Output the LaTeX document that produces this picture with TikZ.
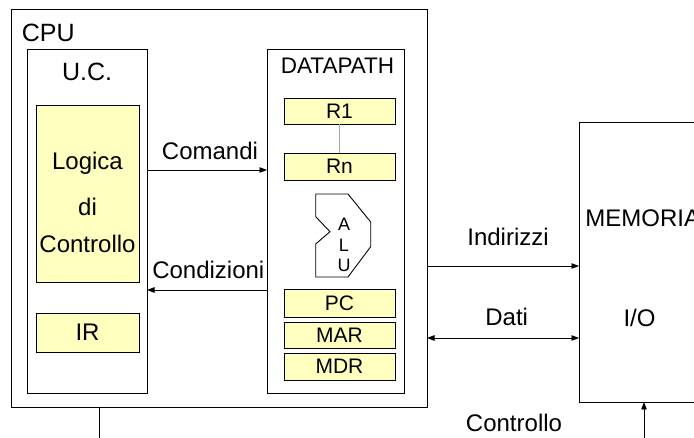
\documentclass[tikz,border=0pt]{standalone}
\usepackage{fontspec}
\setmainfont{Liberation Sans}
\usetikzlibrary{arrows.meta}
\definecolor{yel}{RGB}{255,255,192}
\begin{document}
\begin{tikzpicture}[x=1pt,y=-1pt,line width=0.9pt,
  box/.style={draw,inner sep=0pt,outer sep=0pt},
  lbl/.style={inner sep=0pt,font=\fontsize{24}{28}\selectfont},
  reg/.style={draw,fill=yel,inner sep=0pt,outer sep=0pt,minimum width=111pt,font=\fontsize{21}{24}\selectfont},
  alul/.style={inner sep=0pt,font=\fontsize{18}{22}\selectfont},
  arr/.style={-{Triangle[length=7.5pt,width=5.5pt]}},
  darr/.style={{Triangle[length=7.5pt,width=5.5pt]}-{Triangle[length=7.5pt,width=5.5pt]}}]
\useasboundingbox (0,0) rectangle (694,438);
\clip (0,0) rectangle (694,438);
% CPU
\node[box,minimum width=416pt,minimum height=398pt] (cpu) at (219,208) {};
\node[lbl,anchor=base west,font=\fontsize{25}{30}\selectfont] (cpulbl) at (21.5,41.5) {CPU};
% U.C.
\node[box,minimum width=120pt,minimum height=344pt] (uc) at (87,221) {};
\node[lbl,anchor=base,font=\fontsize{25}{30}\selectfont] (uclbl) at (87,81) {U.C.};
\node[reg,minimum width=103pt,minimum height=177pt] (logica) at (87.5,193.5) {};
\node[lbl,anchor=base] (l1) at (87.5,170) {Logica};
\node[lbl,anchor=base] (l2) at (87.5,216) {di};
\node[lbl,anchor=base] (l3) at (87.5,252.5) {Controllo};
\node[reg,minimum width=103pt,minimum height=39pt,font=\fontsize{24}{28}\selectfont] (ir) at (87.5,332.5) {IR};
% DATAPATH
\node[box,minimum width=137pt,minimum height=344pt] (dp) at (335.5,221) {};
\node[lbl,anchor=base,font=\fontsize{22.5}{27}\selectfont] (dplbl) at (337.5,73.5) {DATAPATH};
\node[reg,minimum height=26pt] (r1) at (339.5,111) {R1};
\node[reg,minimum height=27pt] (rn) at (339.5,166.5) {Rn};
\draw[gray!70,line width=0.5pt] (r1) -- (rn);
\node[reg,minimum height=28pt] (pc) at (339.5,303) {PC};
\node[reg,minimum height=26pt] (mar) at (339.5,335) {MAR};
\node[reg,minimum height=27pt] (mdr) at (339.5,366.5) {MDR};
% ALU
\draw (315.7,194) -- (348,194) -- (370.7,222) -- (370.7,246.7) -- (348,277) -- (315.7,277)
  -- (315.7,244) -- (330,231.7) -- (315.7,216.7) -- cycle;
\node[alul,anchor=base] (aa) at (344,231) {A};
\node[alul,anchor=base] (al) at (344,252) {L};
\node[alul,anchor=base] (au) at (344,272) {U};
% Memory
\node[box,minimum width=140pt,minimum height=280pt] (mem) at (649,262) {};
\node[lbl,anchor=base west] (memlbl) at (585,226.7) {MEMORIA};
\node[lbl,anchor=base] (io) at (639.5,326.5) {I/O};
% connectors
\draw[arr] (uc.east |- 0,170) -- (dp.west |- 0,170);
\node[lbl,anchor=base] (cmd) at (210,160) {Comandi};
\draw[arr] (dp.west |- 0,290) -- (uc.east |- 0,290);
\node[lbl,anchor=base] (cond) at (208.3,278.3) {Condizioni};
\draw[arr] (cpu.east |- 0,266) -- (mem.west |- 0,266);
\node[lbl,anchor=base] (ind) at (508,246) {Indirizzi};
\draw[darr] (cpu.east |- 0,338) -- (mem.west |- 0,338);
\node[lbl,anchor=base] (dati) at (506.7,326) {Dati};
\coordinate (ctl) at (644,438);
\draw[arr] (ctl) -- (ctl |- mem.south);
\node[lbl,anchor=base] (ctllbl) at (514,431.5) {Controllo};
\coordinate (cpub) at (99,438);
\draw (cpu.south -| cpub) -- (cpub);
\end{tikzpicture}
\end{document}
